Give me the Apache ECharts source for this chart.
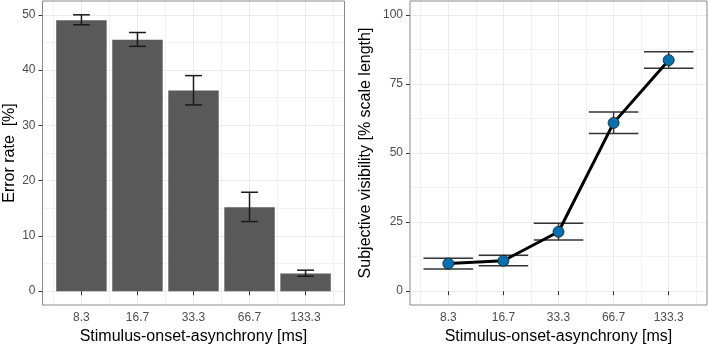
<!DOCTYPE html>
<html>
<head>
<meta charset="utf-8">
<script src="https://cdn.jsdelivr.net/npm/echarts@6/dist/echarts.min.js"></script>
<style>
html,body{margin:0;padding:0;background:#fff;}
#c{width:708px;height:346px;}
</style>
</head>
<body>
<div id="c"></div>
<script>
// ---- data ----
var categories = ['8.3', '16.7', '33.3', '66.7', '133.3'];
var errorRate = [49.0, 45.5, 36.3, 15.2, 3.2];
var errorRateLow = [48.2, 44.3, 33.7, 12.6, 2.7];
var errorRateHigh = [50.0, 46.8, 39.0, 17.9, 3.8];
var visibility = [10.0, 11.0, 21.5, 60.9, 83.6];
var visibilityLow = [8.0, 9.2, 18.5, 57.1, 80.7];
var visibilityHigh = [11.9, 13.0, 24.6, 64.8, 86.6];
var leftTicks = [0, 10, 20, 30, 40, 50];
var leftMinor = [5, 15, 25, 35, 45];
var rightTicks = [0, 25, 50, 75, 100];
var rightMinor = [12.5, 37.5, 62.5, 87.5];
var xPos = [1, 2, 3, 4, 5];
var xMinor = [0.5, 1.5, 2.5, 3.5, 4.5, 5.5];

var FONT = 'Liberation Sans, Arial, sans-serif';
var GRIDC = '#ebebeb';
var MINORC = '#f2f2f2';

function pairs(xs, ys) { return xs.map(function (x, i) { return [x, ys[i]]; }); }
function triples(xs, lo, hi) { return xs.map(function (x, i) { return [x, lo[i], hi[i]]; }); }

function mainX(gridIndex) {
  return {
    type: 'value', gridIndex: gridIndex, min: 0.305, max: 5.695,
    name: 'Stimulus-onset-asynchrony [ms]', nameLocation: 'middle', nameGap: 22,
    nameTextStyle: { fontSize: 16, color: '#000', fontFamily: FONT },
    axisLine: { show: false },
    axisTick: { show: true, length: 4, customValues: xPos, lineStyle: { color: '#333', width: 1 } },
    axisLabel: { customValues: xPos, margin: 7, fontSize: 12, color: '#4d4d4d', fontFamily: FONT,
      formatter: function (v) { return categories[Math.round(v) - 1]; } },
    splitLine: { show: true, lineStyle: { color: GRIDC, width: 1 } }
  };
}
function minorX(gridIndex) {
  return {
    type: 'value', gridIndex: gridIndex, min: 0.305, max: 5.695, position: 'bottom',
    axisLine: { show: false }, axisLabel: { show: false },
    axisTick: { show: false, customValues: xMinor },
    splitLine: { show: true, lineStyle: { color: MINORC, width: 1 } }
  };
}
function mainY(gridIndex, min, max, ticks, name, gap) {
  return {
    type: 'value', gridIndex: gridIndex, min: min, max: max,
    name: name, nameLocation: 'middle', nameGap: gap,
    nameTextStyle: { fontSize: 16, color: '#000', fontFamily: FONT },
    axisLine: { show: false },
    axisTick: { show: true, length: 4, customValues: ticks, lineStyle: { color: '#333', width: 1 } },
    axisLabel: { customValues: ticks, margin: 7, fontSize: 12, color: '#4d4d4d', fontFamily: FONT },
    splitLine: { show: true, lineStyle: { color: GRIDC, width: 1 } }
  };
}
function minorY(gridIndex, min, max, ticks) {
  return {
    type: 'value', gridIndex: gridIndex, min: min, max: max, position: 'left',
    axisLine: { show: false }, axisLabel: { show: false },
    axisTick: { show: false, customValues: ticks },
    splitLine: { show: true, lineStyle: { color: MINORC, width: 1 } }
  };
}

function errorBarSeries(xAxisIndex, yAxisIndex, data, half, color, width, z) {
  return {
    type: 'custom', xAxisIndex: xAxisIndex, yAxisIndex: yAxisIndex, z: z,
    data: data,
    renderItem: function (params, api) {
      var x = api.value(0), lo = api.value(1), hi = api.value(2);
      var pLo = api.coord([x, lo]), pHi = api.coord([x, hi]);
      var l = api.coord([x - half, lo])[0], r = api.coord([x + half, lo])[0];
      var st = { stroke: color, lineWidth: width };
      return { type: 'group', children: [
        { type: 'line', shape: { x1: pLo[0], y1: pLo[1], x2: pHi[0], y2: pHi[1] }, style: st },
        { type: 'line', shape: { x1: l, y1: pLo[1], x2: r, y2: pLo[1] }, style: st },
        { type: 'line', shape: { x1: l, y1: pHi[1], x2: r, y2: pHi[1] }, style: st }
      ] };
    }
  };
}

var chart = echarts.init(document.getElementById('c'), null, { renderer: 'canvas' });
chart.setOption({
  backgroundColor: '#ffffff',
  animation: false,
  grid: [
    { left: 42.5, right: 363.5, top: 1, bottom: 41, outerBoundsMode: 'none', containLabel: false, show: true, borderColor: '#8a8a8a', borderWidth: 1, backgroundColor: 'transparent', z: 5 },
    { left: 410, right: 1, top: 1, bottom: 41, outerBoundsMode: 'none', containLabel: false, show: true, borderColor: '#8a8a8a', borderWidth: 1, backgroundColor: 'transparent', z: 5 }
  ],
  xAxis: [ mainX(0), minorX(0), mainX(1), minorX(1) ],
  yAxis: [
    mainY(0, -2.5, 52.5, leftTicks, 'Error rate  [%]', 25),
    minorY(0, -2.5, 52.5, leftMinor),
    mainY(1, -5, 105, rightTicks, 'Subjective visibility [% scale length]', 36),
    minorY(1, -5, 105, rightMinor)
  ],
  series: [
    {
      type: 'bar', xAxisIndex: 0, yAxisIndex: 0, barWidth: '90%', z: 2,
      itemStyle: { color: '#595959' },
      data: pairs(xPos, errorRate)
    },
    errorBarSeries(0, 0, triples(xPos, errorRateLow, errorRateHigh), 0.15, '#1a1a1a', 1.5, 3),
    errorBarSeries(2, 2, triples(xPos, visibilityLow, visibilityHigh), 0.45, '#333333', 1.5, 2),
    {
      type: 'line', xAxisIndex: 2, yAxisIndex: 2, z: 4,
      symbol: 'circle', symbolSize: 11,
      lineStyle: { color: '#000', width: 3 },
      itemStyle: { color: '#0072B2', borderColor: '#1a1a1a', borderWidth: 0.8 },
      data: pairs(xPos, visibility)
    }
  ]
});
</script>
</body>
</html>
